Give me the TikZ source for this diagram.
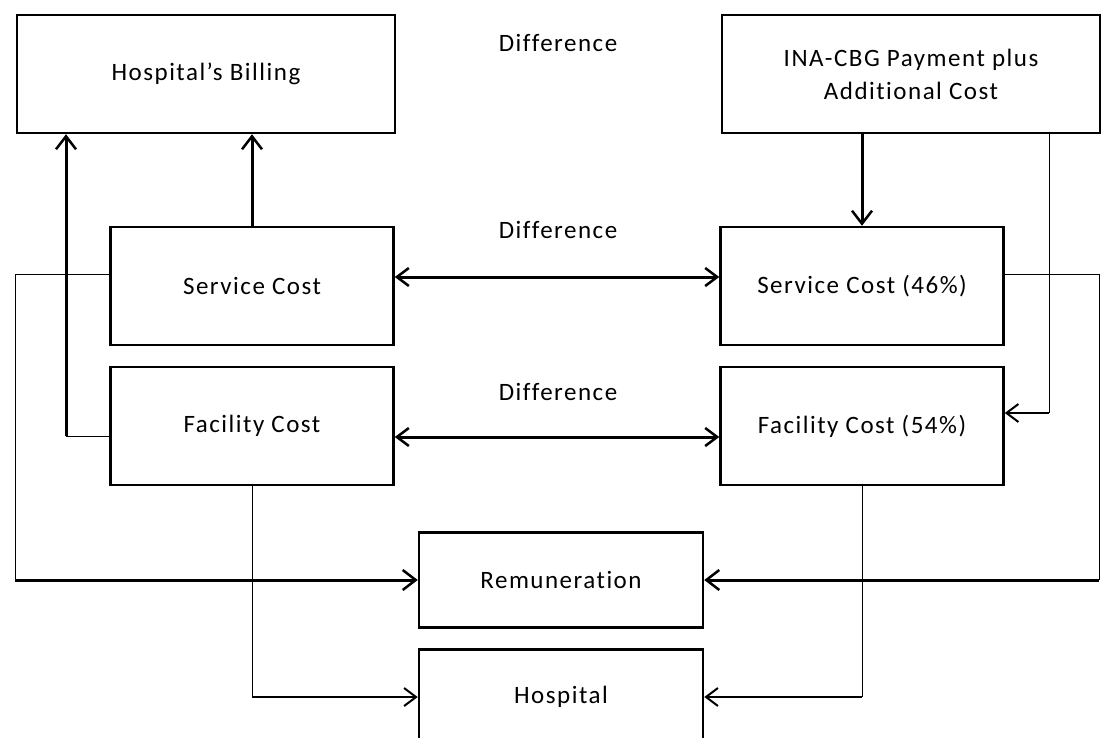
\documentclass[tikz,border=0pt]{standalone}
\usepackage{fontspec}
\setmainfont{Carlito}[LetterSpace=6,Ligatures={TeX,CommonOff}]
\usetikzlibrary{arrows.meta,positioning}
\tikzset{
  every node/.style={
    font=\fontsize{25}{33}\selectfont
  },
  block/.style={
    shape=rectangle,
    draw=black,
    line width=2.5pt,
    align=center,
    inner sep=0pt
  },
  wide block/.style={
    block,
    minimum width=378pt,
    minimum height=118pt
  },
  cost block/.style={
    block,
    minimum width=283pt,
    minimum height=118pt
  },
  end block/.style={
    block,
    minimum width=284pt,
    minimum height=95pt
  },
  link/.style={
    draw=black,
    line width=1pt
  },
  heavy link/.style={
    draw=black,
    line width=3pt,
    -{Straight Barb[length=13pt,width=20pt,line width=2.5pt]}
  },
  mid link/.style={
    draw=black,
    line width=2.5pt,
    -{Straight Barb[length=12pt,width=18pt,line width=2pt]}
  },
  both link/.style={
    draw=black,
    line width=3pt,
    {Straight Barb[length=12pt,width=18pt,line width=2.5pt]}-{Straight Barb[length=12pt,width=18pt,line width=2.5pt]}
  }
}

\begin{document}
\begin{tikzpicture}[x=1pt,y=-1pt]
    \useasboundingbox (0,0) rectangle (1103,738);
    \node[wide block] (billing) at (206,74) {Hospital's Billing};
    \node[wide block] (ina) at (911,74) {INA-CBG Payment plus\\Additional Cost};
    \node[cost block] (service) at (252,286) {Service Cost};
    \node[cost block] (service46) at (862,286) {Service Cost (46\%)};
    \node[cost block] (facility) at (252,426) {Facility Cost};
    \node[cost block] (facility54) at (862,426) {Facility Cost (54\%)};
    \node[end block] (remun) at (561,580) {Remuneration};
    \node[end block] (hospital) at (561,697) {Hospital};
    \node (diffTop) at (558,43) {Difference};
    \node (diffService) at (558,230) {Difference};
    \node (diffFacility) at (558,392) {Difference};
    \coordinate (serviceLeft) at (15,274);
    \coordinate (serviceRight) at (1099,274);
    \coordinate (facilityUp) at (66,436);
    \coordinate (inaDown) at (1049,413);
    \coordinate (serviceGap) at (558,277);
    \coordinate (facilityGap) at (558,437);
    \draw[heavy link] (service.north) -- (service.north |- billing.south);
    \draw[link] (facility.west |- facilityUp) -- (facilityUp);
    \draw[heavy link] (facilityUp) -- (facilityUp |- billing.south);
    \draw[heavy link] (ina.south -| service46.north) -- (service46.north);
    \draw[link] (ina.south -| inaDown) -- (inaDown);
    \draw[mid link] (inaDown) -- (facility54.east |- inaDown);
    \draw[both link] (service.east |- serviceGap) -- (service46.west |- serviceGap);
    \draw[both link] (facility.east |- facilityGap) -- (facility54.west |- facilityGap);
    \draw[link] (service.west |- serviceLeft) -- (serviceLeft) -- (serviceLeft |- remun);
    \draw[heavy link] (serviceLeft |- remun) -- (remun);
    \draw[link] (service46.east |- serviceRight) -- (serviceRight) -- (serviceRight |- remun);
    \draw[heavy link] (serviceRight |- remun) -- (remun);
    \draw[link] (facility.south) -- (facility.south |- hospital);
    \draw[mid link] (facility.south |- hospital) -- (hospital);
    \draw[link] (facility54.south) -- (facility54.south |- hospital);
    \draw[mid link] (facility54.south |- hospital) -- (hospital);
  \end{tikzpicture}
\end{document}
